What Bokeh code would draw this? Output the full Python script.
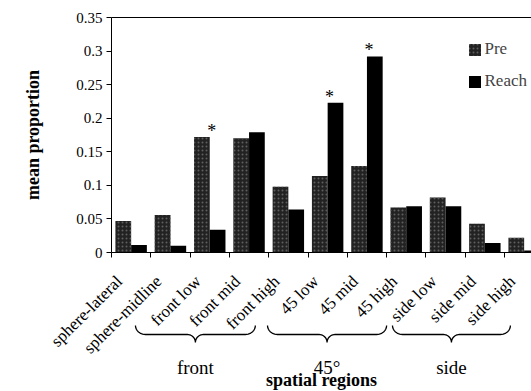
import numpy as np
from math import pi
from bokeh.plotting import figure
from bokeh.models import Range1d, LinearAxis, FixedTicker, Legend, LegendItem
from bokeh.core.properties import value
from bokeh.embed import file_html
from bokeh.resources import INLINE

# ---------------- data ----------------
categories = ["sphere-lateral", "sphere-midline", "front low", "front mid", "front high",
              "45 low", "45 mid", "45 high", "side low", "side mid", "side high"]
pre = [0.047, 0.056, 0.172, 0.170, 0.098, 0.114, 0.129, 0.067, 0.082, 0.043, 0.022]
reach = [0.011, 0.010, 0.034, 0.179, 0.064, 0.223, 0.292, 0.069, 0.069, 0.014, 0.003]
significant = [False, False, True, False, False, True, True, False, False, False, False]
groups = ["front", "45\u00b0", "side"]
y_ticks = [0, 0.05, 0.1, 0.15, 0.2, 0.25, 0.3, 0.35]
y_tick_labels = ["0", "0.05", "0.1", "0.15", "0.2", "0.25", "0.3", "0.35"]

# ---------------- layout ----------------
SERIF = "Liberation Serif"
W, H = 531, 391
AX_X, AX_TOP, AX_BOT = 111, 17, 252      # pixel position of axes corner / top / baseline
px_x = 39.3                              # pixels per category
px_y = (AX_BOT - AX_TOP) / 0.35          # pixels per unit of proportion
x_start = -AX_X / px_x
x_end = (W - AX_X) / px_x
y_end = 0.35 + AX_TOP / px_y
y_start = -(H - AX_BOT) / px_y

brace_spans = [(0.61, 3.66), (3.97, 7.0), (7.15, 10.15)]
label_shift = 0.2

n = len(categories)
idx = np.arange(n)

p = figure(width=W, height=H, output_backend="svg", toolbar_location=None,
           x_range=Range1d(x_start, x_end), y_range=Range1d(y_start, y_end),
           x_axis_type=None, y_axis_type=None,
           min_border_left=0, min_border_right=0, min_border_top=0, min_border_bottom=0)
p.outline_line_color = None
p.background_fill_color = "white"
p.border_fill_color = "white"

# y axis
ya = LinearAxis(ticker=FixedTicker(ticks=y_ticks), fixed_location=0,
                major_label_overrides={t: l for t, l in zip(y_ticks, y_tick_labels)},
                bounds=(0, 0.35), axis_label="mean proportion")
ya.minor_tick_line_color = None
ya.major_tick_out = 5
ya.major_tick_in = 0
ya.major_label_standoff = 4
ya.major_label_text_font = SERIF
ya.major_label_text_font_size = "15px"
ya.major_label_text_color = "black"
ya.axis_label_text_font = SERIF
ya.axis_label_text_font_size = "18px"
ya.axis_label_text_font_style = "bold"
ya.axis_label_text_color = "black"
ya.axis_label_standoff = 30
ya.axis_line_color = "black"
p.add_layout(ya, "left")

# top border line
ta = LinearAxis(ticker=FixedTicker(ticks=[]), fixed_location=0.35, bounds=(0, x_end))
ta.minor_tick_line_color = None
ta.major_tick_line_color = None
ta.axis_line_color = "black"
p.add_layout(ta, "above")

# x axis: boundary ticks
xb = LinearAxis(ticker=FixedTicker(ticks=list(range(n))), fixed_location=0, bounds=(0, x_end),
                major_label_overrides={i: "" for i in range(n)})
xb.minor_tick_line_color = None
xb.major_tick_out = 5
xb.major_tick_in = 0
xb.axis_line_color = "black"
p.add_layout(xb, "below")

# x axis: category labels
centers = [float(i) + label_shift for i in range(n)]
xl = LinearAxis(ticker=FixedTicker(ticks=centers), fixed_location=0, bounds=(0, 10.9),
                major_label_overrides={c: name for c, name in zip(centers, categories)},
                axis_label="spatial regions")
xl.minor_tick_line_color = None
xl.major_tick_line_color = None
xl.major_tick_out = 0
xl.major_tick_in = 0
xl.axis_line_color = None
xl.major_label_orientation = pi / 4
xl.major_label_standoff = 26
xl.major_label_text_font = SERIF
xl.major_label_text_font_size = "17px"
xl.major_label_text_color = "black"
xl.axis_label_text_font = SERIF
xl.axis_label_text_font_size = "18px"
xl.axis_label_text_font_style = "bold"
xl.axis_label_text_color = "black"
xl.axis_label_standoff = 3
p.add_layout(xl, "below")

# bars
r_pre = p.vbar(x=idx + 0.3, width=0.4, top=pre, bottom=0, fill_color="#222222", line_color=None,
               hatch_pattern="dot", hatch_color="#5e5e5e", hatch_scale=4, hatch_weight=1)
r_reach = p.vbar(x=idx + 0.7, width=0.4, top=reach, bottom=0, fill_color="black", line_color=None)

# significance asterisks
sx = [i + 0.55 for i in range(n) if significant[i]]
sy = [max(pre[i], reach[i]) for i in range(n) if significant[i]]
p.text(x=sx, y=sy, text=["*"] * len(sx), text_font=value(SERIF), text_font_size="18px",
       text_align="center", text_baseline="alphabetic", y_offset=-6, text_color="black")

# braces
y_top = -(325 - AX_BOT) / px_y
h1, h2, r1, r2 = 9.0, 8.0, 10.0, 8.0
t = np.linspace(0, pi / 2, 12)
bx, by = [], []
for (x0, x1) in brace_spans:
    Wp = (x1 - x0) * px_x
    half = Wp / 2
    lx = list(r1 - r1 * np.cos(t)) + list(half - r2 + r2 * np.sin(t))
    ly = list(h1 * np.sin(t)) + list(h1 + h2 - h2 * np.cos(t))
    rx = [Wp - v for v in lx[::-1]]
    ry = ly[::-1]
    xs_px = np.array(lx + rx)
    ys_px = np.array(ly + ry)
    bx.append(list(x0 + xs_px / px_x))
    by.append(list(y_top - ys_px / px_y))
p.multi_line(xs=bx, ys=by, line_color="black", line_width=1.3)

# group labels
gx = [(a + b) / 2 for a, b in brace_spans]
gy = [-(367 - AX_BOT) / px_y] * len(groups)
p.text(x=gx, y=gy, text=groups, text_font=value(SERIF), text_font_size="19px",
       text_align="center", text_baseline="alphabetic", text_color="black")

# legend
legend = Legend(items=[LegendItem(label="Pre", renderers=[r_pre]),
                       LegendItem(label="Reach", renderers=[r_reach])],
                location=(466.5, H - 91))
legend.border_line_color = None
legend.background_fill_alpha = 0
legend.padding = 0
legend.margin = 0
legend.spacing = 12
legend.glyph_width = 15
legend.glyph_height = 15
legend.label_height = 20
legend.label_standoff = 3
legend.label_text_font = SERIF
legend.label_text_font_size = "17px"
p.add_layout(legend)

open("out.html", "w").write(file_html(p, INLINE))
